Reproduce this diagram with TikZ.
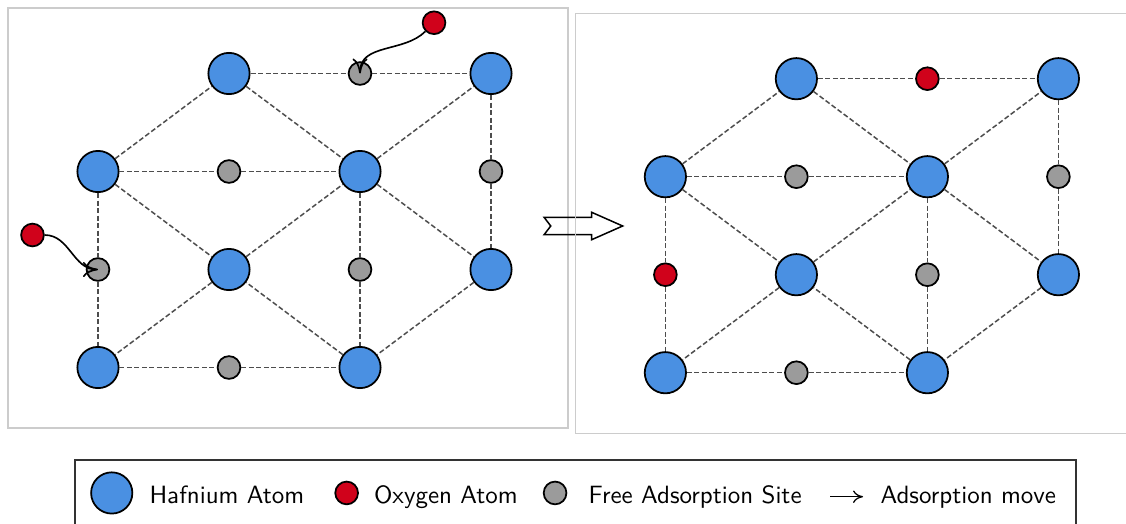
\documentclass[tikz,border=0pt]{standalone}
\usetikzlibrary{arrows.meta}

\definecolor{hfblue}{HTML}{4A90E2}
\definecolor{oxred}{HTML}{D0021B}
\definecolor{sitegray}{HTML}{9B9B9B}
\definecolor{bondgray}{HTML}{4D4D4D}
\definecolor{framegray}{HTML}{CCCCCC}

\tikzset{
  hafnium/.style={circle, draw=black, line width=0.7pt, fill=hfblue, minimum size=16.5pt, inner sep=0pt},
  oxygen/.style={circle, draw=black, line width=0.7pt, fill=oxred, minimum size=9.1pt, inner sep=0pt},
  site/.style={circle, draw=black, line width=0.7pt, fill=sitegray, minimum size=9.1pt, inner sep=0pt},
  bond/.style={draw=bondgray, line width=0.6pt, dash pattern=on 2pt off 1pt},
  move/.style={-{To[length=6pt,width=6pt]}, line width=0.65pt},
  panel/.style={draw=framegray, line width=0.5pt},
  keytext/.style={font=\sffamily, anchor=base west},
}

\begin{document}
\begin{tikzpicture}[x=52.4pt, y=39.2pt]
      \useasboundingbox (-0.748,-1.587) rectangle (7.847,3.750);
      \clip (-0.748,-1.587) rectangle (7.847,3.750);

      % before: two oxygen atoms moving onto free sites
      \draw[panel] (-0.687,-0.617) rectangle (3.588,3.668);

      \node[hafnium] (l13) at (1,3) {};
      \node[site]    (l23) at (2,3) {};
      \node[hafnium] (l33) at (3,3) {};

      \node[hafnium] (l02) at (0,2) {};
      \node[site]    (l12) at (1,2) {};
      \node[hafnium] (l22) at (2,2) {};
      \node[site]    (l32) at (3,2) {};

      \node[site]    (l01) at (0,1) {};
      \node[hafnium] (l11) at (1,1) {};
      \node[site]    (l21) at (2,1) {};
      \node[hafnium] (l31) at (3,1) {};

      \node[hafnium] (l00) at (0,0) {};
      \node[site]    (l10) at (1,0) {};
      \node[hafnium] (l20) at (2,0) {};

      \node[oxygen] (ox1) at (2.565,3.518) {};
      \node[oxygen] (ox2) at (-0.5,1.352) {};

      \draw[bond] (l13) -- (l23) -- (l33);
      \draw[bond] (l02) -- (l12) -- (l22);
      \draw[bond] (l00) -- (l10) -- (l20);
      \draw[bond] (l33) -- (l32) -- (l31);
      \draw[bond] (l02) -- (l01) -- (l00);
      \draw[bond] (l22) -- (l21) -- (l20);
      \draw[bond] (l02) -- (l13) -- (l22) -- (l33);
      \draw[bond] (l02) -- (l11) -- (l22) -- (l31) -- (l20) -- (l11) -- (l00);

      \draw[move] (ox1) to[out=-135,in=90] (l23.center);
      \draw[move] (ox2) to[out=0,in=180] (l01.center);

      % hollow arrow between the two states
      \draw[line width=0.6pt] (3.405,1.533) -- (3.768,1.533) -- (3.768,1.584) -- (4.005,1.444)
            -- (3.768,1.304) -- (3.768,1.355) -- (3.405,1.355) -- (3.456,1.444) -- cycle;

      % after: oxygen sits on the two sites
      \begin{scope}[shift={(4.331,-0.053)}]
      \draw[panel] (-0.687,-0.617) rectangle (3.588,3.668);

      \node[hafnium] (r13) at (1,3) {};
      \node[oxygen]  (r23) at (2,3) {};
      \node[hafnium] (r33) at (3,3) {};

      \node[hafnium] (r02) at (0,2) {};
      \node[site]    (r12) at (1,2) {};
      \node[hafnium] (r22) at (2,2) {};
      \node[site]    (r32) at (3,2) {};

      \node[oxygen]  (r01) at (0,1) {};
      \node[hafnium] (r11) at (1,1) {};
      \node[site]    (r21) at (2,1) {};
      \node[hafnium] (r31) at (3,1) {};

      \node[hafnium] (r00) at (0,0) {};
      \node[site]    (r10) at (1,0) {};
      \node[hafnium] (r20) at (2,0) {};

      \draw[bond] (r13) -- (r23) -- (r33);
      \draw[bond] (r02) -- (r12) -- (r22);
      \draw[bond] (r00) -- (r10) -- (r20);
      \draw[bond] (r33) -- (r32) -- (r31);
      \draw[bond] (r02) -- (r01) -- (r00);
      \draw[bond] (r22) -- (r21) -- (r20);
      \draw[bond] (r02) -- (r13) -- (r22) -- (r33);
      \draw[bond] (r02) -- (r11) -- (r22) -- (r31) -- (r20) -- (r11) -- (r00);
      \end{scope}

      % legend
      \draw[draw=black!80, line width=0.8pt] (-0.172,-0.944) rectangle (7.469,-1.8);

      \node[hafnium] (keyhf) at (0.105,-1.28) {};
      \node[keytext] (keyhftext) at (0.326,-1.386) {Hafnium Atom};
      \node[oxygen]  (keyox) at (1.898,-1.28) {};
      \node[keytext] (keyoxtext) at (2.04,-1.386) {Oxygen Atom};
      \node[site]    (keysite) at (3.489,-1.28) {};
      \node[keytext] (keysitetext) at (3.677,-1.386) {Free Adsorption Site};
      \coordinate (keymovefrom) at (5.588,-1.318);
      \coordinate (keymoveto) at (5.840,-1.318);
      \draw[-{To[length=4pt,width=5pt]}, line width=0.5pt] (keymovefrom) -- (keymoveto);
      \node[keytext] (keymovetext) at (5.906,-1.386) {Adsorption move};
    \end{tikzpicture}
\end{document}
